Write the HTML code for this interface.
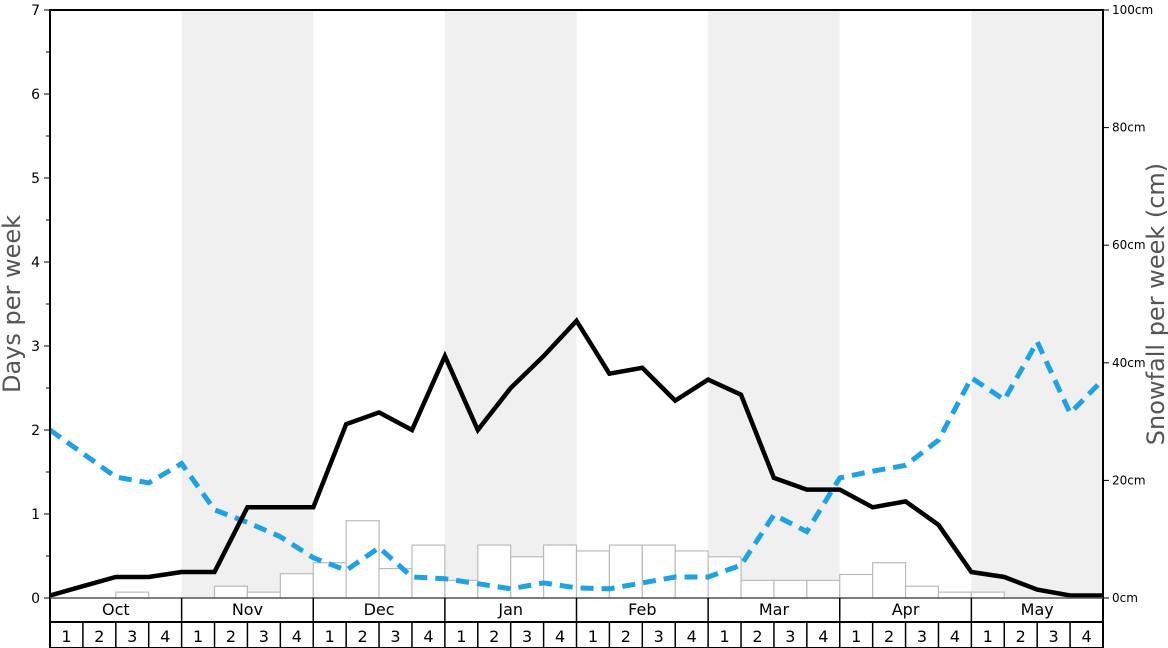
<!DOCTYPE html>
<html><head><meta charset="utf-8"><style>
html,body{margin:0;padding:0;background:#fff;}
svg{display:block;font-family:"DejaVu Sans","Liberation Sans",sans-serif;}
</style></head><body>
<svg width="1168" height="648" viewBox="0 0 1168 648" xmlns="http://www.w3.org/2000/svg">
<rect x="0" y="0" width="1168" height="648" fill="#fff"/>
<!-- shaded months -->
<g fill="#f0f0f0">
<rect x="181.6" y="10" width="131.6" height="588"/>
<rect x="444.9" y="10" width="131.6" height="588"/>
<rect x="708.1" y="10" width="131.6" height="588"/>
<rect x="971.4" y="10" width="131.6" height="588"/>
</g>
<!-- bars -->
<g fill="#fff" stroke="#bbb" stroke-width="1.2" id="bars"></g>
<polyline id="blue" fill="none" stroke="#1aa3e8" stroke-width="5" stroke-dasharray="13,8"/>
<polyline id="black" fill="none" stroke="#000" stroke-width="4.5" stroke-linejoin="miter"/>
<!-- frame -->
<rect x="50" y="10" width="1053" height="638" fill="none" stroke="#000" stroke-width="2"/>
<line x1="50" y1="598" x2="1103" y2="598" stroke="#555" stroke-width="1.5"/>
<line x1="50" y1="622" x2="1103" y2="622" stroke="#000" stroke-width="2"/>
<g id="axes" font-size="14"></g>
<text transform="translate(20,304) rotate(-90)" text-anchor="middle" font-size="24" fill="#555">Days per week</text>
<text transform="translate(1164,304) rotate(-90)" text-anchor="middle" font-size="24" fill="#555">Snowfall per week (cm)</text>
</svg>
<script>
var W=1053/32,X0=50,Y0=598,S=84;
function y(v){return Y0-v*S;}
var blk=[0.03,0.14,0.25,0.25,0.31,0.31,1.08,1.08,1.08,2.07,2.21,2.0,2.88,2.0,2.5,2.88,3.3,2.67,2.74,2.35,2.6,2.42,1.43,1.29,1.29,1.08,1.15,0.87,0.31,0.25,0.1,0.03,0.03];
var blu=[2.0,1.72,1.44,1.37,1.6,1.05,0.9,0.73,0.48,0.33,0.6,0.25,0.23,0.17,0.11,0.18,0.12,0.11,0.18,0.25,0.25,0.39,0.99,0.79,1.43,1.51,1.58,1.88,2.62,2.36,3.05,2.2,2.6];
var bars=[0,0,0.07,0,0,0.14,0.07,0.29,0.42,0.92,0.35,0.63,0.21,0.63,0.49,0.63,0.56,0.63,0.63,0.56,0.49,0.21,0.21,0.21,0.28,0.42,0.14,0.07,0.07,0,0,0];
function pts(a){return a.map(function(v,i){return (X0+i*W).toFixed(1)+","+y(v).toFixed(1);}).join(" ");}
document.getElementById("black").setAttribute("points",pts(blk));
document.getElementById("blue").setAttribute("points",pts(blu));
var ns="http://www.w3.org/2000/svg",h="";
bars.forEach(function(v,i){if(v>0)h+='<rect x="'+(X0+i*W)+'" y="'+y(v)+'" width="'+W+'" height="'+(v*S)+'"/>';});
document.getElementById("bars").innerHTML=h;
var a="";
for(var k=0;k<=7;k++){a+='<text x="40" y="'+(y(k)+5)+'" text-anchor="end">'+k+'</text><line x1="44" x2="50" y1="'+y(k)+'" y2="'+y(k)+'" stroke="#000"/>';
 if(k<7)a+='<line x1="46" x2="50" y1="'+y(k+0.5)+'" y2="'+y(k+0.5)+'" stroke="#000"/>';}
for(var c=0;c<=100;c+=20){var yy=598-c*5.88;a+='<line x1="1103" x2="1109" y1="'+yy+'" y2="'+yy+'" stroke="#000"/><text x="1112" y="'+(yy+4)+'" font-size="12">'+c+'cm</text>';}
var m=["Oct","Nov","Dec","Jan","Feb","Mar","Apr","May"];
for(var i=0;i<8;i++){var x=X0+i*4*W;a+='<text x="'+(x+2*W)+'" y="615" text-anchor="middle" font-size="16">'+m[i]+'</text>';
 if(i>0)a+='<line x1="'+x+'" x2="'+x+'" y1="598" y2="648" stroke="#000" stroke-width="1.5"/>';}
for(var j=0;j<32;j++){var x=X0+j*W;a+='<text x="'+(x+W/2)+'" y="642" text-anchor="middle" font-size="16">'+(j%4+1)+'</text>';
 if(j%4)a+='<line x1="'+x+'" x2="'+x+'" y1="622" y2="648" stroke="#000" stroke-width="1.5"/>';}
document.getElementById("axes").innerHTML=a;
</script>
</body></html>
